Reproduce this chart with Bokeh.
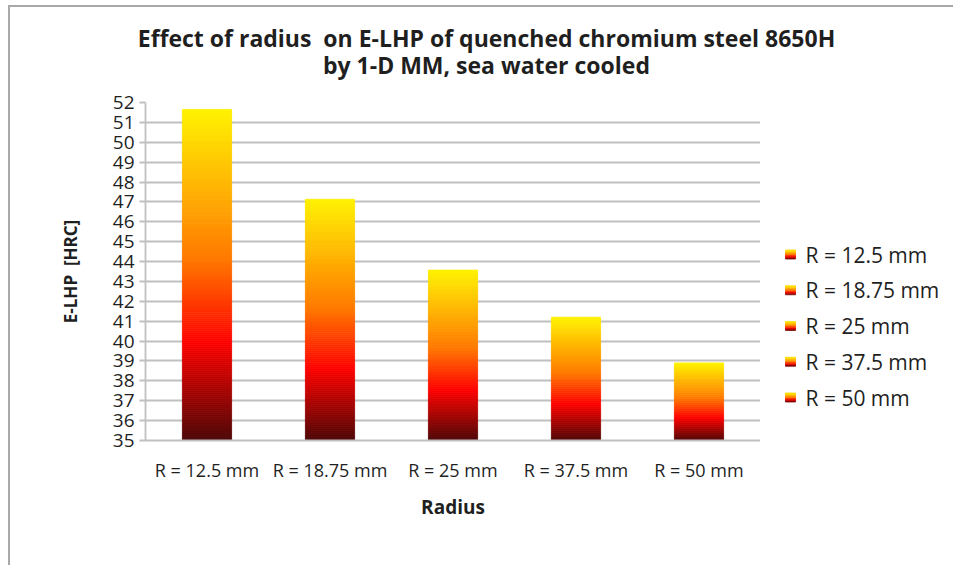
from bokeh.plotting import figure
from bokeh.layouts import column, row
from bokeh.models import Range1d, FactorRange, FixedTicker
from bokeh.core.properties import value
from bokeh.embed import file_html
from bokeh.resources import INLINE

# ---- chart data ----
radius_labels = ["R = 12.5 mm", "R = 18.75 mm", "R = 25 mm", "R = 37.5 mm", "R = 50 mm"]
elhp_hrc = [51.65, 47.13, 43.57, 41.2, 38.9]
hrc_ticks = list(range(35, 53))
# non-breaking spaces keep the wider gaps in the SVG text
title_lines = ["Effect of radius\u00a0 on E-LHP of quenched chromium steel 8650H",
               "by 1-D MM, sea water cooled"]
x_title = "Radius"
y_title = "E-LHP\u00a0 [HRC]"

# ---- page layout (pixels on the page) ----
PAGE_W, PAGE_H = 953, 565
CANVAS_X0, CANVAS_Y0 = 10, 7          # offset that leaves room for the chart-area rule
HEADER_H = 80                         # strip holding the two title lines
FRAME_L, FRAME_R = 145, 760           # bar area
FRAME_T, FRAME_B = 102, 440
BODY_Y0 = CANVAS_Y0 + HEADER_H
n_cat = len(radius_labels)
Y_MIN, Y_MAX = hrc_ticks[0], hrc_ticks[-1]
Y_UNIT = (FRAME_B - FRAME_T) / (Y_MAX - Y_MIN)

FONT = "Open Sans"
TEXT = "#1f1f1f"
GRID = "#c0c0c0"

# "Fire" fill: dark maroon at the base, red, orange, yellow at the top
FIRE = [(0.0, (0x4D, 0x08, 0x08)), (0.30, (0xFF, 0x03, 0x00)),
        (0.55, (0xFF, 0x7A, 0x00)), (1.0, (0xFF, 0xF2, 0x00))]


def fire(t):
    for (t0, c0), (t1, c1) in zip(FIRE[:-1], FIRE[1:]):
        if t <= t1:
            f = (t - t0) / (t1 - t0)
            return "#%02x%02x%02x" % tuple(round(a + (b - a) * f) for a, b in zip(c0, c1))
    return "#%02x%02x%02x" % FIRE[-1][1]


def gradient_quads(x0, x1, y0, y1, n):
    """Split a box into n horizontal slices coloured from y0 (dark) to y1 (yellow)."""
    out = {"left": [], "right": [], "bottom": [], "top": [], "color": []}
    h = y1 - y0
    for k in range(n):
        out["left"].append(x0)
        out["right"].append(x1)
        out["bottom"].append(y0 + h * k / n)
        out["top"].append(y0 + h * (k + 1) / n)
        out["color"].append(fire((k + 0.5) / n))
    return out


def draw_gradient(fig, q):
    fig.quad(left=q["left"], right=q["right"], bottom=q["bottom"], top=q["top"],
             fill_color=q["color"], line_color=q["color"], line_width=0.8)


def blank_panel(width, height, x0, x1, y_top, y_bottom, **borders):
    """Axis-less figure mapped in page-pixel coordinates."""
    f = figure(width=width, height=height, x_range=Range1d(x0, x1),
               y_range=Range1d(y_bottom, y_top), x_axis_type=None, y_axis_type=None,
               toolbar_location=None, output_backend="svg", **borders)
    f.outline_line_color = None
    f.grid.visible = False
    return f


# ---- header with the chart title ----
header = blank_panel(PAGE_W - CANVAS_X0, HEADER_H, CANVAS_X0, PAGE_W, CANVAS_Y0, BODY_Y0,
                     min_border=0)
TITLE_CX = 486
header.text(x=[TITLE_CX, TITLE_CX], y=[37, 64], text=title_lines,
            text_font=value(FONT), text_font_size="23px", text_font_style="bold",
            text_color=TEXT, text_align="center", text_baseline="middle")

# ---- main bar chart ----
p = figure(width=FRAME_R - CANVAS_X0, height=PAGE_H - BODY_Y0,
           x_range=FactorRange(*radius_labels), y_range=Range1d(Y_MIN, Y_MAX),
           min_border_left=FRAME_L - CANVAS_X0, min_border_right=0,
           min_border_top=FRAME_T - BODY_Y0, min_border_bottom=PAGE_H - FRAME_B,
           toolbar_location=None, output_backend="svg")
p.outline_line_color = None
p.xgrid.visible = False
p.ygrid.ticker = FixedTicker(ticks=hrc_ticks)
p.ygrid.grid_line_color = GRID
p.ygrid.grid_line_width = 1.8

BAR_W = 0.4
for i, v in enumerate(elhp_hrc):
    n_slices = max(8, round((v - Y_MIN) * Y_UNIT / 2))
    draw_gradient(p, gradient_quads(i + 0.5 - BAR_W / 2, i + 0.5 + BAR_W / 2, Y_MIN, v, n_slices))

yax = p.yaxis[0]
yax.ticker = FixedTicker(ticks=hrc_ticks)
yax.minor_tick_line_color = None
yax.major_tick_in = 0
yax.major_tick_out = 6
yax.major_tick_line_color = GRID
yax.major_tick_line_width = 1.8
yax.axis_line_color = GRID
yax.axis_line_width = 1.8
yax.major_label_text_font = FONT
yax.major_label_text_font_size = "19px"
yax.major_label_text_color = TEXT
yax.major_label_standoff = 5
yax.axis_label = y_title
yax.axis_label_text_font = FONT
yax.axis_label_text_font_size = "17px"
yax.axis_label_text_font_style = "bold"
yax.axis_label_text_color = TEXT
yax.axis_label_standoff = 28

xax = p.xaxis[0]
xax.major_tick_line_color = None
xax.major_tick_out = 0
xax.major_tick_in = 0
xax.axis_line_color = GRID
xax.axis_line_width = 1.8
xax.major_label_text_font = FONT
xax.major_label_text_font_size = "18px"
xax.major_label_text_color = TEXT
xax.major_label_standoff = 17
xax.axis_label = x_title
xax.axis_label_text_font = FONT
xax.axis_label_text_font_size = "19px"
xax.axis_label_text_font_style = "bold"
xax.axis_label_text_color = TEXT
xax.axis_label_standoff = 9

# ---- legend panel: gradient swatch + label per radius ----
# same vertical borders as the bar chart, so its frame spans FRAME_T..FRAME_B
legend = blank_panel(PAGE_W - FRAME_R, PAGE_H - BODY_Y0, FRAME_R, PAGE_W, FRAME_T, FRAME_B,
                     min_border_left=0, min_border_right=0,
                     min_border_top=FRAME_T - BODY_Y0, min_border_bottom=PAGE_H - FRAME_B)
LEG_X0, LEG_X1 = 785, 795
LEG_TXT_X = 805
LEG_Y0, LEG_DY, LEG_H = 254, 35.75, 9
leg_y = [LEG_Y0 + j * LEG_DY for j in range(n_cat)]
for cy in leg_y:
    draw_gradient(legend, gradient_quads(LEG_X0, LEG_X1, cy + LEG_H / 2, cy - LEG_H / 2, 6))
legend.text(x=[LEG_TXT_X] * n_cat, y=leg_y, text=radius_labels,
            text_font=value(FONT), text_font_size="21px", text_color=TEXT,
            text_baseline="middle", text_align="left")

page = column(header, row(p, legend))
page.margin = (5, 0, 0, 8)
page.styles = {"border-left": "2px solid #a9a9a9", "border-top": "2px solid #a9a9a9"}

open("out.html", "w").write(file_html(page, INLINE))
